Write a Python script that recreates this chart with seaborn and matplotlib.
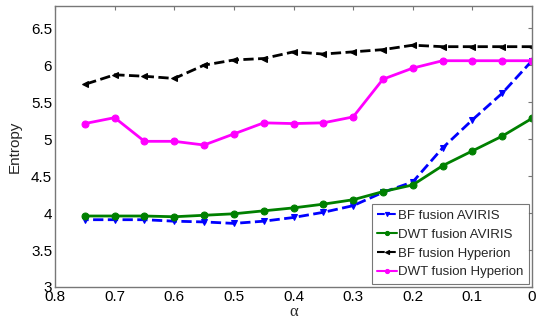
import matplotlib
matplotlib.use("Agg")
import matplotlib.pyplot as plt
import seaborn as sns
import pandas as pd

alpha = [0.75, 0.7, 0.65, 0.6, 0.55, 0.5, 0.45, 0.4, 0.35, 0.3, 0.25, 0.2, 0.15, 0.1, 0.05, 0.0]
bf_aviris = [3.91, 3.91, 3.91, 3.89, 3.88, 3.86, 3.89, 3.94, 4.01, 4.10, 4.28, 4.42, 4.88, 5.26, 5.62, 6.06]
dwt_aviris = [3.96, 3.96, 3.96, 3.95, 3.97, 3.99, 4.03, 4.07, 4.12, 4.18, 4.29, 4.38, 4.64, 4.84, 5.04, 5.28]
bf_hyperion = [5.74, 5.87, 5.85, 5.82, 6.00, 6.07, 6.09, 6.18, 6.15, 6.18, 6.21, 6.27, 6.25, 6.25, 6.25, 6.25]
dwt_hyperion = [5.21, 5.29, 4.97, 4.97, 4.92, 5.07, 5.22, 5.21, 5.22, 5.30, 5.81, 5.96, 6.06, 6.06, 6.06, 6.06]

series = [
    ("BF fusion AVIRIS", bf_aviris, "blue", "--", "v"),
    ("DWT fusion AVIRIS", dwt_aviris, "green", "-", "o"),
    ("BF fusion Hyperion", bf_hyperion, "black", "--", "<"),
    ("DWT fusion Hyperion", dwt_hyperion, "magenta", "-", "o"),
]

sns.set_style("white")
plt.rcParams['font.family'] = ['Liberation Sans', 'DejaVu Sans']

fig = plt.figure(figsize=(5.36, 3.25), dpi=100)
ax = fig.add_axes([55/536, 1 - 287/325, (532-55)/536, (287-6)/325])

for name, vals, col, ls, mk in series:
    df = pd.DataFrame({"alpha": alpha, "entropy": vals})
    sns.lineplot(data=df, x="alpha", y="entropy", ax=ax, color=col, linestyle=ls,
                 marker=mk, markersize=5, markeredgecolor=col, linewidth=2, label=name)

ax.set_xlim(0.8, 0.0)
ax.set_ylim(3, 6.8)
ax.set_xticks([0.8, 0.7, 0.6, 0.5, 0.4, 0.3, 0.2, 0.1, 0])
ax.set_xticklabels(["0.8", "0.7", "0.6", "0.5", "0.4", "0.3", "0.2", "0.1", "0"])
ax.set_yticks([3, 3.5, 4, 4.5, 5, 5.5, 6, 6.5])
ax.set_yticklabels(["3", "3.5", "4", "4.5", "5", "5.5", "6", "6.5"])
ax.tick_params(direction="in", length=3, top=True, right=True, labelsize=11,
               color="#777777", labelcolor="black", pad=2)
for s in ax.spines.values():
    s.set_color("#777777")
    s.set_linewidth(1)
ax.set_xlabel("α", fontsize=12, labelpad=0, family=["Liberation Serif", "DejaVu Serif"])
ax.set_ylabel("Entropy", fontsize=11, labelpad=7)

leg = ax.legend(loc="lower right", fontsize=9.5, frameon=True, fancybox=False,
                edgecolor="#555555", handlelength=1.5, handletextpad=0.1,
                borderaxespad=0.25, borderpad=0.4, labelspacing=0.5, markerscale=0.6)
leg.get_frame().set_linewidth(0.8)
for line in leg.get_lines():
    line.set_linewidth(1.5)

fig.savefig("out.png", dpi=100)
